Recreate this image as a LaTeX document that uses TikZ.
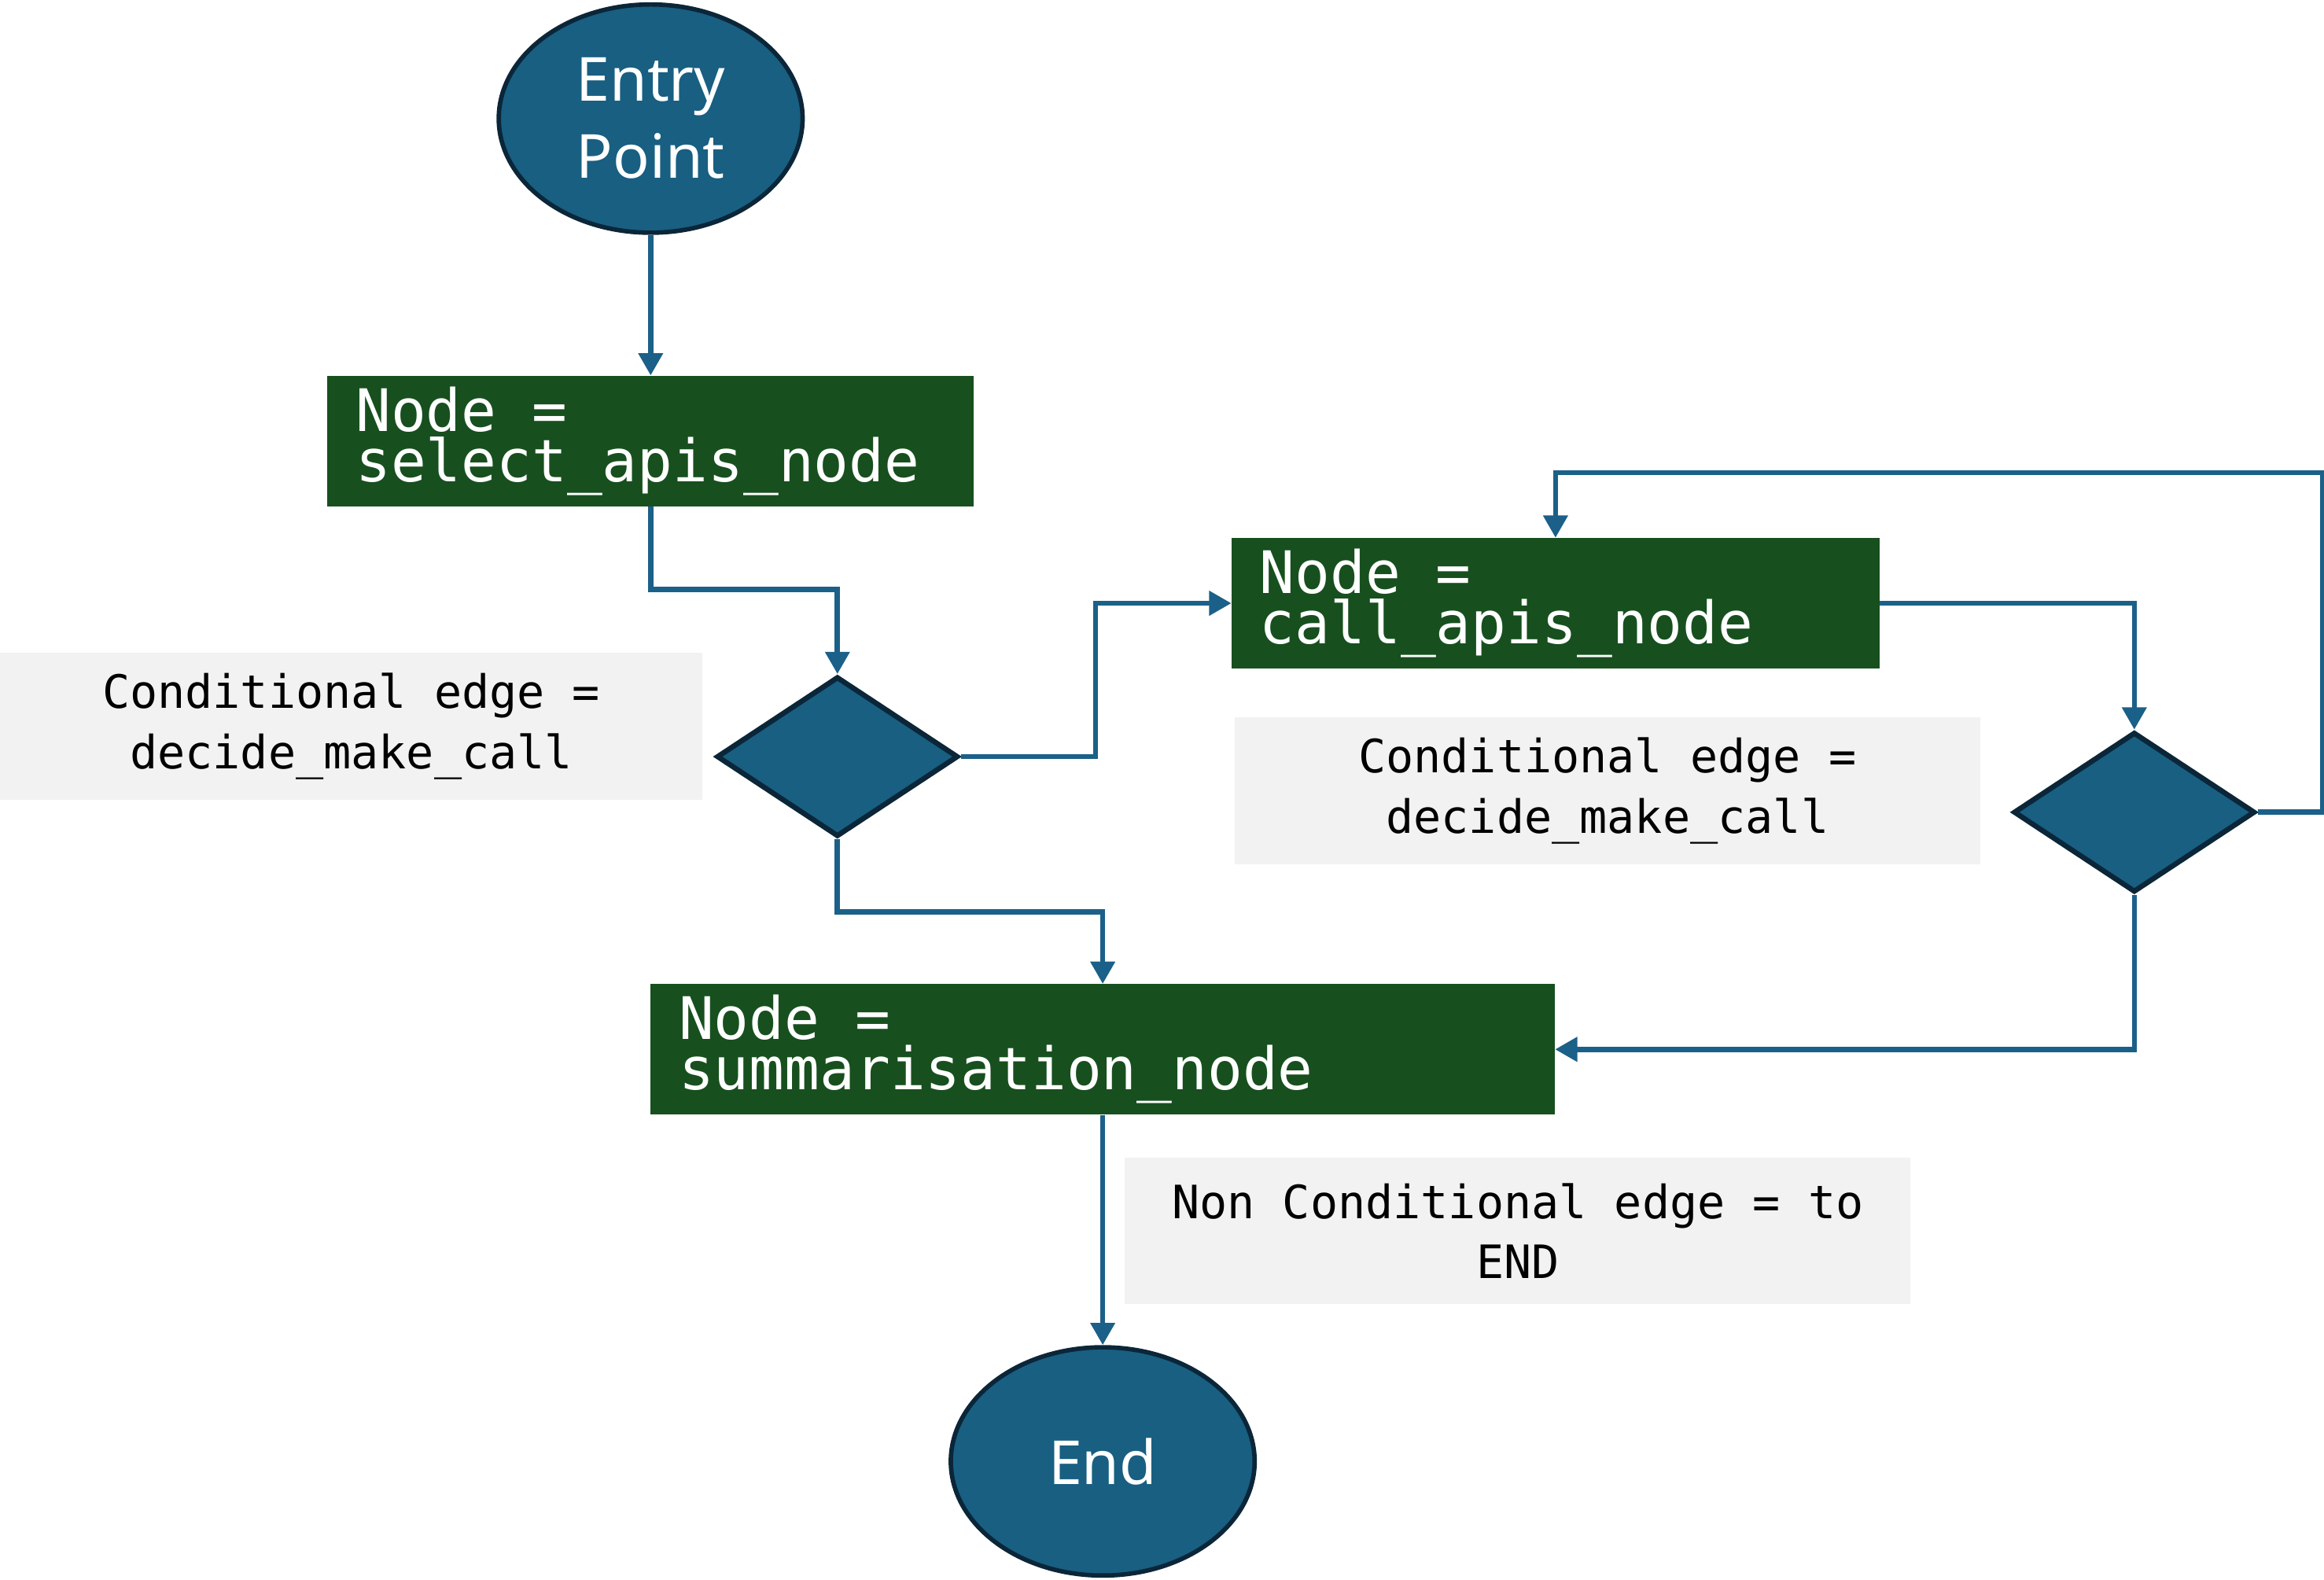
\documentclass[tikz,border=0pt]{standalone}
\usepackage{fontspec}
\setmainfont{Noto Sans}
\newfontfamily\monofont{DejaVu Sans Mono}
\usetikzlibrary{shapes.geometric,arrows.meta}

\definecolor{stepblue}{HTML}{185F82}
\definecolor{darkrim}{HTML}{0B2638}
\definecolor{nodegreen}{HTML}{17501E}
\definecolor{linkblue}{HTML}{1B6088}
\definecolor{labelgrey}{HTML}{F2F2F2}

\tikzset{
  startend/.style={ellipse, draw=darkrim, line width=3pt, fill=stepblue, text=white,
    minimum width=205pt, minimum height=154pt, inner sep=0pt, align=center,
    font=\fontsize{41}{52}\selectfont},
  nodebox/.style={rectangle, fill=nodegreen, text=white, minimum height=88pt,
    inner xsep=19pt, inner ysep=0pt, align=flush left, font=\monofont\fontsize{39.5}{34}\selectfont},
  decision/.style={diamond, draw=darkrim, line width=3.5pt, fill=stepblue,
    minimum width=163pt, minimum height=108pt, inner sep=0pt},
  edgelabel/.style={rectangle, fill=labelgrey, minimum height=99pt, inner sep=0pt,
    align=center, font=\monofont\fontsize{31}{40.6}\selectfont},
  conn/.style={draw=linkblue, line width=3.5pt, -{Triangle[length=15pt,width=16pt]}}
}

\begin{document}
\begin{tikzpicture}[x=1pt, y=-1pt]
  \useasboundingbox[fill=white] (0,0) rectangle (1568,1066);
  % start and end
  \node[startend] (entry) at (439,80) {Entry\\Point};
  \node[startend] (end) at (744,986) {End};
  % graph nodes
  \node[nodebox, text width=398pt] (sel) at (439,297.5) {Node =\\select\_apis\_node};
  \node[nodebox, text width=399pt] (call) at (1049.5,407) {Node =\\call\_apis\_node};
  \node[nodebox, text width=572pt] (sum) at (744,708) {Node =\\summarisation\_node};
  % decisions
  \node[decision] (d1) at (565,510.5) {};
  \node[decision] (d2) at (1440,548) {};
  % edge labels
  \node[edgelabel, minimum width=474pt] (lab1) at (237,490) {Conditional edge =\\decide\_make\_call};
  \node[edgelabel, minimum width=503pt] (lab2) at (1084.5,533.5) {Conditional edge =\\decide\_make\_call};
  \node[edgelabel, minimum width=530pt] (lab3) at (1024,830.5) {Non Conditional edge = to\\END};
  % connectors
  \draw[conn] (entry) -- (sel);
  \draw[conn] (sel.south) -- ++(0,56) -| (d1.north);
  \draw[conn] (d1.east) -- ++(91,0) |- (call.west);
  \draw[conn] (call.east) -| (d2.north);
  \draw[conn] (d2.east) -- ++(44,0) |- ([yshift=44pt]call.north) -- (call.north);
  \draw[conn] (d2.south) |- (sum.east);
  \draw[conn] (d1.south) -- ++(0,49) -| (sum.north);
  \draw[conn] (sum.south) -- (end.north);
\end{tikzpicture}
\end{document}
